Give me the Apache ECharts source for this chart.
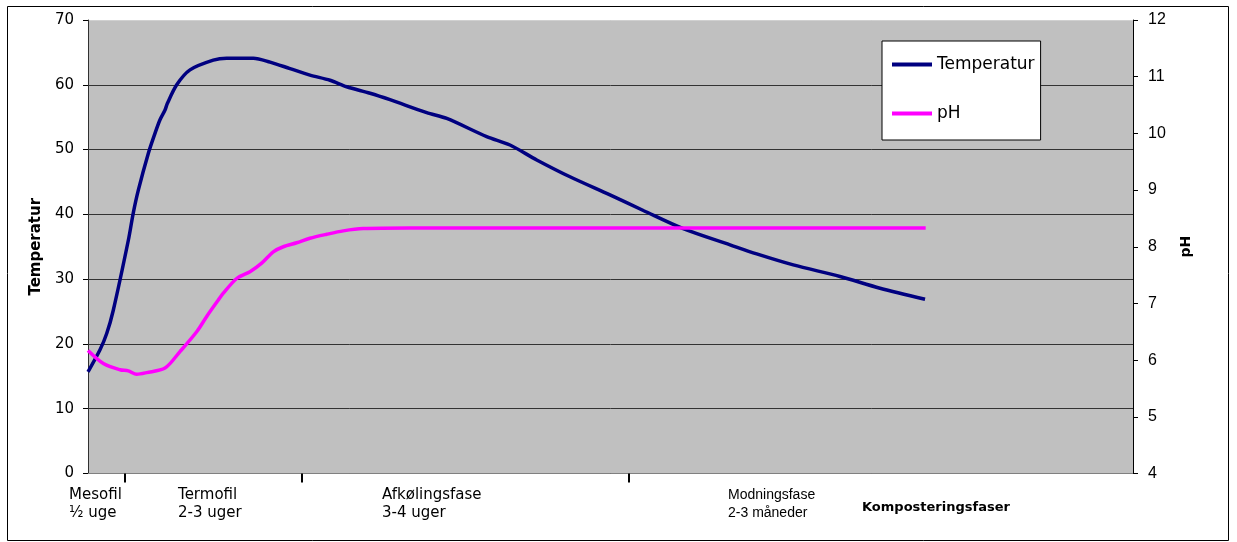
<!DOCTYPE html>
<html>
<head>
<meta charset="utf-8">
<script src="https://cdn.jsdelivr.net/npm/echarts@6/dist/echarts.min.js"></script>
<style>
html,body{margin:0;padding:0;background:#fff;}
#chart{width:1237px;height:542px;}
</style>
</head>
<body>
<div id="chart"></div>
<script>
// Phase axis runs 0..100 across the plot
const tempX = [0, 1.15, 1.79, 2.42, 3.86, 4.33, 4.81, 5.77, 6.41, 6.89, 7.37, 7.59, 8.49, 9.76, 11.99, 13.27, 15.82, 17.42, 19.33, 21.24, 23.16, 24.75, 26.99, 28.9, 32.41, 34.33, 38.15, 40.38, 42.94, 46.12, 49.95, 53.14, 56.96, 61.44, 63.99, 67.49, 71.96, 75.79, 80.1];
const tempY = [15.7, 19.1, 21.6, 25.2, 36.0, 40.2, 43.7, 49.4, 52.5, 54.6, 56.1, 57.1, 60.0, 62.3, 63.8, 64.1, 64.1, 63.5, 62.5, 61.5, 60.7, 59.7, 58.7, 57.7, 55.7, 54.8, 52.0, 50.7, 48.4, 45.8, 43.0, 40.6, 37.8, 35.3, 33.9, 32.2, 30.4, 28.6, 26.9];
const phX = [0, 1.47, 3.06, 3.86, 4.66, 5.62, 7.37, 8.8, 10.4, 11.36, 12.47, 12.95, 14.23, 15.5, 16.62, 17.73, 18.69, 19.97, 21.24, 22.84, 24.43, 26.34, 30.81, 80.16];
const phY = [6.17, 5.94, 5.83, 5.81, 5.75, 5.78, 5.86, 6.15, 6.50, 6.77, 7.06, 7.18, 7.44, 7.56, 7.71, 7.91, 8.0, 8.07, 8.15, 8.22, 8.28, 8.32, 8.33, 8.33];
const phaseTicks = [3.54, 20.48, 51.77];
const phaseNames = ['Mesofil', 'Termofil', 'Afkølingsfase', 'Modningsfase'];
const phaseDurations = ['½ uge', '2-3 uger', '3-4 uger', '2-3 måneder'];
const phaseLabelAt = [2.97, 13.40, 32.92, 66.03];
const leftTicks = { min: 0, max: 70, interval: 10 };
const rightTicks = { min: 4, max: 12, interval: 1 };

const tempData = tempX.map((x, i) => [x, tempY[i]]);
const phData = phX.map((x, i) => [x, phY[i]]);

const chart = echarts.init(document.getElementById('chart'), null, { renderer: 'canvas' });
const F = '"DejaVu Sans", Verdana, sans-serif';
const FA = '"Liberation Sans", Arial, sans-serif';
const lineIcon = 'path://M0,0 L40,0 L40,4 L0,4 Z';

chart.setOption({
  animation: false,
  backgroundColor: '#ffffff',
  graphic: [{
    type: 'rect',
    shape: { x: 7.5, y: 6.5, width: 1221, height: 534 },
    style: { fill: 'none', stroke: '#000', lineWidth: 1 },
    z: 100
  }],
  title: {
    text: 'Komposteringsfaser',
    left: 862, top: 501, padding: 0,
    textStyle: { fontFamily: F, fontSize: 13, fontWeight: 'bold', color: '#000' }
  },
  legend: {
    orient: 'vertical',
    left: 882, top: 41,
    padding: [15, 6, 18, 10],
    itemWidth: 40, itemHeight: 16, itemGap: 32,
    backgroundColor: '#ffffff',
    borderColor: '#000', borderWidth: 1, borderRadius: 0,
    textStyle: { fontFamily: F, fontSize: 17, color: '#000' },
    data: [{ name: 'Temperatur', icon: lineIcon }, { name: 'pH', icon: lineIcon }]
  },
  grid: {
    left: 88, right: 104, top: 20, bottom: 68.5,
    show: true, backgroundColor: '#c0c0c0', borderWidth: 0
  },
  xAxis: {
    type: 'value', min: 0, max: 100,
    axisLine: { show: true, lineStyle: { color: '#808080', width: 1 } },
    axisTick: { show: true, customValues: phaseTicks, length: 9, lineStyle: { color: '#000', width: 2 } },
    splitLine: { show: false },
    axisLabel: {
      customValues: phaseLabelAt,
      hideOverlap: false,
      margin: 13,
      align: 'center',
      formatter: function (v) {
        const i = phaseLabelAt.indexOf(v);
        if (i < 0) return '';
        const s = i === 3 ? 'b' : 'a';
        return '{' + s + '|' + phaseNames[i] + '}\n{' + s + '|' + phaseDurations[i] + '}';
      },
      rich: {
        a: { width: 100, align: 'left', fontFamily: F, fontSize: 15, lineHeight: 18, color: '#000' },
        b: { width: 100, align: 'left', fontFamily: FA, fontSize: 14, lineHeight: 18, color: '#000' }
      }
    }
  },
  yAxis: [{
    type: 'value', position: 'left',
    min: leftTicks.min, max: leftTicks.max, interval: leftTicks.interval,
    name: 'Temperatur', nameLocation: 'middle', nameGap: 36, nameRotate: 90,
    nameTextStyle: { fontFamily: F, fontSize: 15, fontWeight: 'bold', color: '#000' },
    axisLine: { show: true, lineStyle: { color: '#303030', width: 1 } },
    axisTick: { show: true, inside: false, length: 5, lineStyle: { color: '#000' } },
    axisLabel: { margin: 14, fontFamily: F, fontSize: 15, color: '#000' },
    splitLine: { show: true, lineStyle: { color: ['#333', '#333', '#333', '#333', '#333', '#333', '#333', '#d0d0d0'], width: 1 } }
  }, {
    type: 'value', position: 'right',
    min: rightTicks.min, max: rightTicks.max, interval: rightTicks.interval,
    name: 'pH', nameLocation: 'middle', nameGap: 46, nameRotate: 90,
    nameTextStyle: { fontFamily: F, fontSize: 14, fontWeight: 'bold', color: '#000' },
    axisLine: { show: true, lineStyle: { color: '#000', width: 1 } },
    axisTick: { show: true, length: 5, lineStyle: { color: '#000' } },
    axisLabel: { margin: 15, fontFamily: FA, fontSize: 16, color: '#000' },
    splitLine: { show: false }
  }],
  series: [{
    name: 'Temperatur', type: 'line', yAxisIndex: 0,
    data: tempData, showSymbol: false, symbol: 'none',
    smooth: 0.3,
    lineStyle: { color: '#000080', width: 3.5 },
    itemStyle: { color: '#000080' }
  }, {
    name: 'pH', type: 'line', yAxisIndex: 1,
    data: phData, showSymbol: false, symbol: 'none',
    smooth: 0.3,
    lineStyle: { color: '#ff00ff', width: 3.5 },
    itemStyle: { color: '#ff00ff' }
  }]
});
</script>
</body>
</html>
